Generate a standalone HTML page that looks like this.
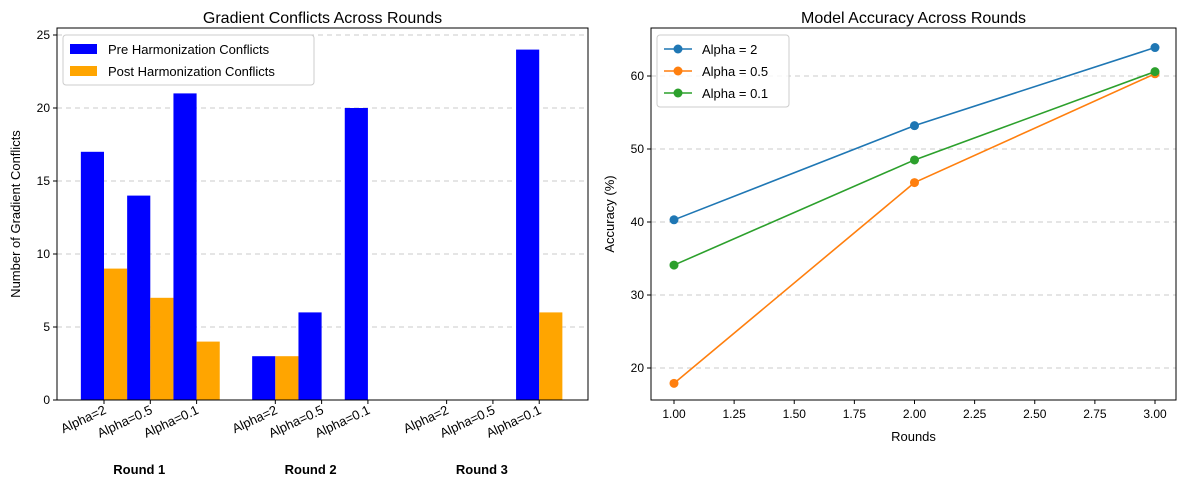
<!DOCTYPE html>
<html><head><meta charset="utf-8"><style>
body{margin:0;background:#fff;font-family:"Liberation Sans","DejaVu Sans",sans-serif;}
svg text{font-family:"Liberation Sans","DejaVu Sans",sans-serif;}
</style></head><body>
<svg id="c" width="1189" height="486" xmlns="http://www.w3.org/2000/svg"></svg>
<script>
const alphas=["Alpha=2","Alpha=0.5","Alpha=0.1"];
const roundNames=["Round 1","Round 2","Round 3"];
const preConf=[[17,14,21],[3,6,20],[0,0,24]];
const postConf=[[9,7,4],[3,0,0],[0,0,6]];
const leftTicks=[0,5,10,15,20,25];
const rounds=[1,2,3];
const accSeries=["Alpha = 2","Alpha = 0.5","Alpha = 0.1"];
const accVals=[[40.3,53.2,63.9],[17.9,45.4,60.3],[34.1,48.5,60.6]];
const accColors=["#1f77b4","#ff7f0e","#2ca02c"];
const rxTicks=[1.00,1.25,1.50,1.75,2.00,2.25,2.50,2.75,3.00];
const ryTicks=[20,30,40,50,60];

const svg=document.getElementById('c');
const NS="http://www.w3.org/2000/svg";
function el(t,a,txt){const e=document.createElementNS(NS,t);for(const k in a)e.setAttribute(k,a[k]);if(txt!==undefined)e.textContent=txt;svg.appendChild(e);return e;}

// LEFT
const L={x0:57,x1:588,y0:28,y1:400};
const lx=p=>104+p*46.3;
const ly=v=>400-v*14.6;
leftTicks.forEach(t=>{
 if(t>0){const g=el('line',{x1:L.x0,x2:L.x1,y1:ly(t),y2:ly(t),stroke:'#bbb','stroke-dasharray':'5,4','stroke-width':0.8});}
 el('line',{x1:L.x0-4,x2:L.x0,y1:ly(t),y2:ly(t),stroke:'#000'});
 const tx=el('text',{x:L.x0-7,y:ly(t)+4,'text-anchor':'end','font-size':12},t);
 
});
preConf.forEach((arr,r)=>arr.forEach((v,a)=>{
 const p=r*3.7+a;
 const b=el('rect',{x:lx(p-0.5),y:ly(v),width:lx(0.5)-lx(0),height:ly(0)-ly(v),fill:'#0000ff'});
 
 const w=postConf[r][a];
 const o=el('rect',{x:lx(p),y:ly(w),width:lx(0.5)-lx(0),height:ly(0)-ly(w),fill:'#ffa500'});
 
 el('line',{x1:lx(p),x2:lx(p),y1:L.y1,y2:L.y1+4,stroke:'#000'});
 const ax=lx(p)+3, ay=L.y1+13;
 const tl=el('text',{x:ax,y:ay,'text-anchor':'end','font-size':13,transform:`rotate(-25 ${ax} ${ay})`},alphas[a]);
 
}));
roundNames.forEach((n,r)=>{const t=el('text',{x:lx(r*3.7+1)-11,y:474,'text-anchor':'middle','font-size':13,'font-weight':'bold'},n);});
el('rect',{x:L.x0,y:L.y0,width:L.x1-L.x0,height:L.y1-L.y0,fill:'none',stroke:'#000','stroke-width':1});
let t1=el('text',{x:(L.x0+L.x1)/2,y:23,'text-anchor':'middle','font-size':16},'Gradient Conflicts Across Rounds');
let yl=el('text',{x:20,y:214,'text-anchor':'middle','font-size':13,transform:'rotate(-90 20 214)'},'Number of Gradient Conflicts');
let lg=el('rect',{x:63,y:35,width:251,height:50,fill:'#fff','fill-opacity':0.8,stroke:'#ccc',rx:3});
el('rect',{x:70,y:44,width:27,height:10,fill:'#0000ff'});
el('rect',{x:70,y:66,width:27,height:10,fill:'#ffa500'});
let le1=el('text',{x:108,y:54,'font-size':13},'Pre Harmonization Conflicts');
let le2=el('text',{x:108,y:76,'font-size':13},'Post Harmonization Conflicts');

// RIGHT
const R={x0:651,x1:1176,y0:28,y1:400};
const rx=v=>674+(v-1)*240.5;
const ry=v=>368-(v-20)*7.3;
ryTicks.forEach(t=>{
 const g=el('line',{x1:R.x0,x2:R.x1,y1:ry(t),y2:ry(t),stroke:'#bbb','stroke-dasharray':'5,4','stroke-width':0.8});
 el('line',{x1:R.x0-4,x2:R.x0,y1:ry(t),y2:ry(t),stroke:'#000'});
 const tx=el('text',{x:R.x0-7,y:ry(t)+4,'text-anchor':'end','font-size':12},t);
});
rxTicks.forEach(t=>{
 el('line',{x1:rx(t),x2:rx(t),y1:R.y1,y2:R.y1+4,stroke:'#000'});
 const tx=el('text',{x:rx(t),y:R.y1+18,'text-anchor':'middle','font-size':12},t.toFixed(2));
});
accVals.forEach((s,i)=>{
 const pl=el('polyline',{points:s.map((v,j)=>rx(rounds[j])+','+ry(v)).join(' '),fill:'none',stroke:accColors[i],'stroke-width':1.6});
 
 s.forEach((v,j)=>{const c=el('circle',{cx:rx(rounds[j]),cy:ry(v),r:4.5,fill:accColors[i]});});
});
el('rect',{x:R.x0,y:R.y0,width:R.x1-R.x0,height:R.y1-R.y0,fill:'none',stroke:'#000'});
let t2=el('text',{x:(R.x0+R.x1)/2,y:23,'text-anchor':'middle','font-size':16},'Model Accuracy Across Rounds');
let xl=el('text',{x:(R.x0+R.x1)/2,y:441,'text-anchor':'middle','font-size':13},'Rounds');
let yl2=el('text',{x:614,y:214,'text-anchor':'middle','font-size':13,transform:'rotate(-90 614 214)'},'Accuracy (%)');
let lg2=el('rect',{x:657,y:35,width:132,height:72,fill:'#fff','fill-opacity':0.8,stroke:'#ccc',rx:3});
accSeries.forEach((n,i)=>{
 const y=49+i*22;
 el('line',{x1:664,x2:692,y1:y,y2:y,stroke:accColors[i],'stroke-width':1.6});
 el('circle',{cx:678,cy:y,r:4.5,fill:accColors[i]});
 const t=el('text',{x:702,y:y+5,'font-size':13},n);
});
</script>
</body></html>
